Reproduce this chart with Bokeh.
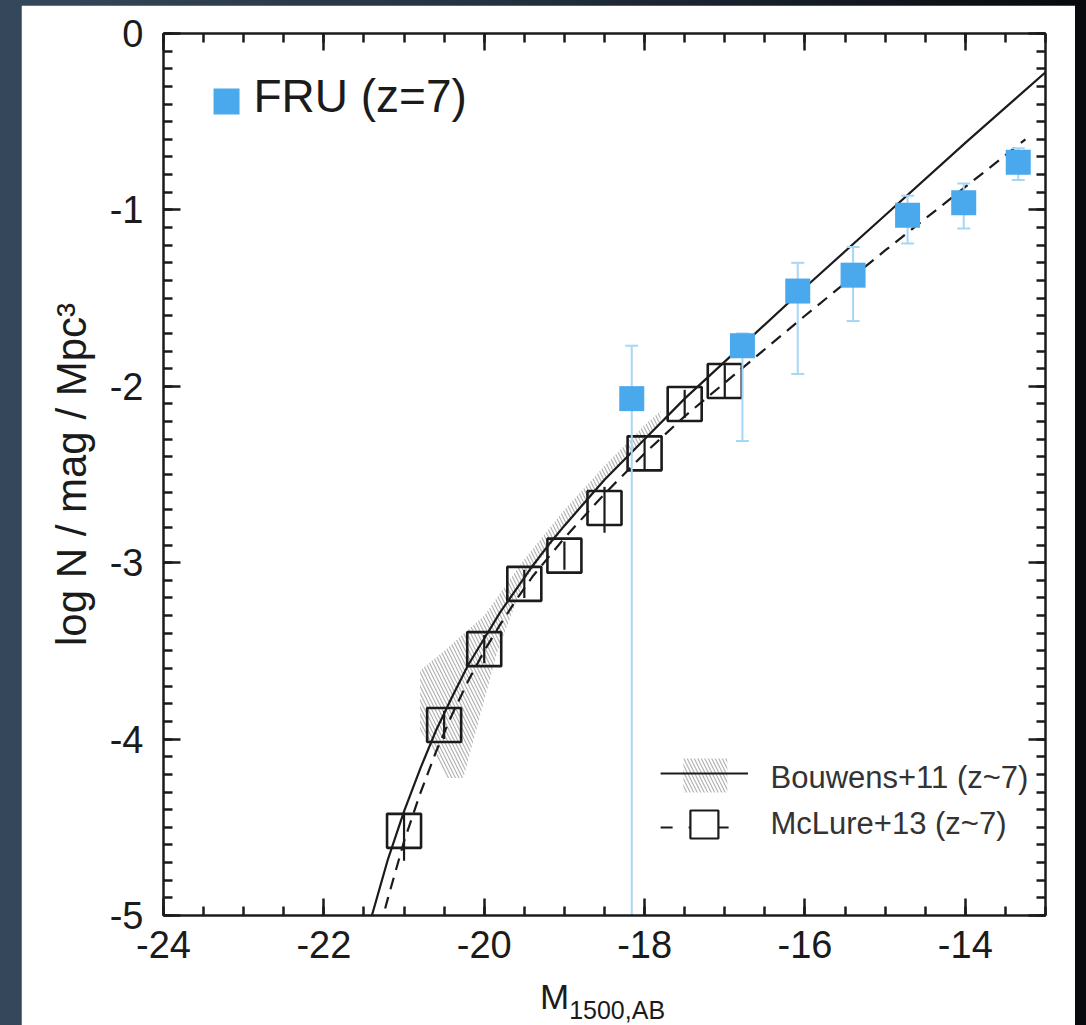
from bokeh.plotting import figure
from bokeh.models import (LinearAxis, SingleIntervalTicker, Range1d,
                          CustomJSTickFormatter, Column, Div)
from bokeh.core.properties import value
from bokeh.embed import file_html
from bokeh.resources import INLINE

# ---------------- data ----------------
# FRU (z=7) points: absolute magnitude, log N, upper and lower error ends
fru_mag = [-18.16, -16.78, -16.09, -15.40, -14.72, -14.02, -13.34]
fru_logn = [-2.07, -1.77, -1.46, -1.37, -1.03, -0.96, -0.73]
fru_hi = [-1.77, -1.70, -1.30, -1.21, -0.92, -0.85, -0.65]
fru_lo = [-5.60, -2.31, -1.93, -1.63, -1.19, -1.105, -0.83]

# McLure+13 (z~7) binned points
mcl_mag = [-21.0, -20.5, -20.0, -19.5, -19.0, -18.5, -18.0, -17.5, -17.0]
mcl_logn = [-4.52, -3.92, -3.49, -3.12, -2.96, -2.69, -2.38, -2.10, -1.97]
mcl_hi = [-4.42, -3.84, -3.41, -3.04, -2.88, -2.57, -2.30, -2.02, -1.88]
mcl_lo = [-4.69, -4.00, -3.57, -3.20, -3.04, -2.83, -2.47, -2.18, -2.07]

# Bouwens+11 (z~7) fit
bou_mag = [-21.42, -21.2, -21.0, -20.8, -20.6, -20.4, -20.2, -20.0, -19.8, -19.6,
           -19.4, -19.2, -19.0, -18.5, -18.0, -17.5, -17.0, -16.0, -15.0, -14.0, -13.0]
bou_logn = [-5.03, -4.68, -4.41, -4.17, -3.95, -3.76, -3.58, -3.43, -3.28, -3.15,
            -3.02, -2.90, -2.79, -2.53, -2.30, -2.07, -1.86, -1.44, -1.03, -0.62, -0.22]

# McLure+13 (z~7) fit
mfit_mag = [-21.3, -21.2, -21.0, -20.8, -20.6, -20.4, -20.2, -20.0, -19.8, -19.6,
            -19.4, -19.2, -19.0, -18.5, -18.0, -17.5, -17.0, -16.0, -15.0, -14.0, -13.25]
mfit_logn = [-5.07, -4.90, -4.58, -4.31, -4.07, -3.86, -3.67, -3.50, -3.35, -3.21,
             -3.08, -2.97, -2.86, -2.61, -2.38, -2.17, -1.98, -1.60, -1.23, -0.87, -0.60]

# Bouwens+11 uncertainty region (hatched)
band_mag = [-20.80, -20.50, -20.20, -20.00, -19.50, -19.00, -18.50, -18.00, -17.80,
            -17.80, -18.00, -18.50, -19.00, -19.50, -19.84, -20.26, -20.46, -20.71, -20.80]
band_logn = [-3.61, -3.50, -3.38, -3.30, -2.98, -2.70, -2.45, -2.22, -2.14,
             -2.21, -2.30, -2.54, -2.80, -3.10, -3.51, -4.22, -4.22, -4.01, -3.95]

x_ticks_interval = 2
y_ticks_interval = 1

# ---------------- styles ----------------
FONT = "Liberation Sans"
BLUE = "#49a9ec"
LBLUE = "#a6d7f6"
INK = "#1b1b1b"
HATCH = "#b3b3b3"

p = figure(width=1054, height=1020, x_range=Range1d(-24, -13), y_range=Range1d(-5, 0),
           output_backend="svg", toolbar_location=None,
           min_border_left=142, min_border_right=30, min_border_top=28, min_border_bottom=110,
           background_fill_color="white", border_fill_color="white")
p.margin = (5, 11, 0, 21)
p.outline_line_color = None
p.xgrid.visible = False
p.ygrid.visible = False


def style_axis(ax, labels=True):
    ax.axis_line_width = 2.5
    ax.axis_line_color = INK
    ax.major_tick_in = 17
    ax.major_tick_out = 0
    ax.minor_tick_in = 9
    ax.minor_tick_out = 0
    ax.major_tick_line_width = 2.5
    ax.minor_tick_line_width = 2.5
    ax.major_tick_line_color = INK
    ax.minor_tick_line_color = INK
    ax.major_label_text_font = FONT
    ax.major_label_text_font_size = "38px"
    ax.major_label_text_color = INK
    if labels:
        ax.formatter = CustomJSTickFormatter(code="return tick.toFixed(0)")
    else:
        ax.formatter = CustomJSTickFormatter(code="return ''")
        ax.major_label_standoff = 0


xa = p.xaxis[0]
xa.ticker = SingleIntervalTicker(interval=x_ticks_interval, num_minor_ticks=4)
style_axis(xa)
xa.major_label_standoff = 15

ya = p.yaxis[0]
ya.ticker = SingleIntervalTicker(interval=y_ticks_interval, num_minor_ticks=10)
style_axis(ya)
ya.major_label_standoff = 20
ya.axis_label = "log N / mag / Mpc³"
ya.axis_label_text_font = FONT
ya.axis_label_text_font_size = "42px"
ya.axis_label_text_font_style = "normal"
ya.axis_label_text_color = INK
ya.axis_label_standoff = 12

top = LinearAxis(ticker=SingleIntervalTicker(interval=x_ticks_interval, num_minor_ticks=4))
style_axis(top, labels=False)
p.add_layout(top, "above")
right = LinearAxis(ticker=SingleIntervalTicker(interval=y_ticks_interval, num_minor_ticks=10))
style_axis(right, labels=False)
p.add_layout(right, "right")

# ---------------- marks ----------------
p.patch(band_mag, band_logn, fill_alpha=0, line_alpha=0,
        hatch_pattern="\\", hatch_color=HATCH, hatch_scale=7, hatch_weight=1.2)

p.line(bou_mag, bou_logn, line_color=INK, line_width=2.2)
p.line(mfit_mag, mfit_logn, line_color=INK, line_width=2.2, line_dash="12 8")

p.segment(mcl_mag, mcl_hi, mcl_mag, mcl_lo, line_color=INK, line_width=2.2)
p.scatter(mcl_mag, mcl_logn, marker="square", size=34, fill_color=None,
          line_color=INK, line_width=2.6)

p.segment(fru_mag, fru_hi, fru_mag, fru_lo, line_color=LBLUE, line_width=2)
p.scatter(fru_mag, fru_hi, marker="dash", size=13, line_color=LBLUE, line_width=2)
p.scatter(fru_mag[1:], fru_lo[1:], marker="dash", size=13, line_color=LBLUE, line_width=2)
p.scatter(fru_mag, fru_logn, marker="square", size=25, fill_color=BLUE, line_color=None)

# ---------------- legends ----------------
# top-left
p.scatter([-23.214], [-0.385], marker="square", size=26, fill_color=BLUE, line_color=None)
p.text([-22.878], [-0.357], text=["FRU (z=7)"], text_font=value(FONT),
       text_font_size="46px", text_color=INK, text_baseline="middle")

# bottom-right
p.quad(left=[-17.516], right=[-16.968], bottom=[-4.303], top=[-4.110],
       fill_alpha=0, line_alpha=0, hatch_pattern="\\", hatch_color=HATCH,
       hatch_scale=7, hatch_weight=1.2)
p.line([-17.80, -16.71], [-4.195, -4.195], line_color=INK, line_width=2.2)
p.text([-16.43], [-4.218], text=["Bouwens+11 (z~7)"], text_font=value(FONT),
       text_font_size="31px", text_color="#333333", text_baseline="middle")

p.line([-17.80, -16.87], [-4.501, -4.501], line_color=INK, line_width=2.2, line_dash="12 16")
p.scatter([-17.254], [-4.484], marker="square", size=28, fill_color="white",
          line_color=INK, line_width=2.2)
p.text([-16.43], [-4.478], text=["McLure+13 (z~7)"], text_font=value(FONT),
       text_font_size="31px", text_color="#333333", text_baseline="middle")

# x-axis title with subscript (real HTML text), laid over the figure's bottom border
xtitle = Div(
    text=("<div style=\"font-family:'Liberation Sans',Arial,sans-serif; color:#1b1b1b; "
          "white-space:nowrap; padding-left:519px; line-height:57px;\">"
          "<span style=\"font-size:35px\">M</span>"
          "<span style=\"font-size:25px; position:relative; top:10px;\">1500,AB</span></div>"),
    width=1054, height=57, margin=(-57, 11, 0, 21))

layout = Column(children=[p, xtitle], width=1086, height=1025, spacing=0,
                styles={"background": "linear-gradient(90deg, #35485b 0%, #243140 45%, #07090c 100%)"})

open("out.html", "w").write(file_html(layout, INLINE))
